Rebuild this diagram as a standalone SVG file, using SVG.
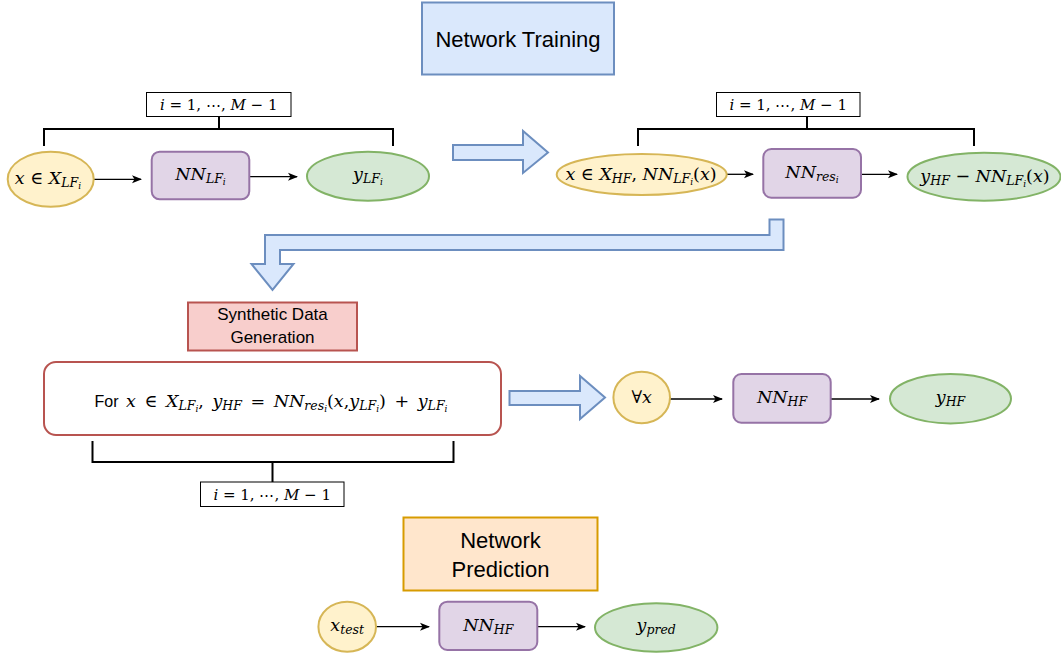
<svg xmlns="http://www.w3.org/2000/svg" width="1061" height="656" viewBox="0 0 1061 656">
  <style>
    .title { font-family: "Liberation Sans", Arial, sans-serif; fill: #000; text-anchor: middle; }
    .math { font-family: "DejaVu Serif", "Liberation Serif", serif; font-size: 17.5px; fill: #000; text-anchor: middle; }
    .math.loop { font-size: 15px; }
    .math.rule { word-spacing: 3px; }
    .mi { font-style: italic; }
    .s1 { font-style: italic; font-size: 12.5px; }
    .s2 { font-style: italic; font-size: 9px; }
    .yel { fill: #fff2cc; stroke: #d6b656; stroke-width: 2; }
    .pur { fill: #e1d5e7; stroke: #9673a6; stroke-width: 2; }
    .grn { fill: #d5e8d4; stroke: #82b366; stroke-width: 2; }
    .blk { fill: #dae8fc; stroke: #6c8ebf; stroke-width: 2; }
    .lbl { fill: #fff; stroke: #000; stroke-width: 1; }
    .brk { fill: none; stroke: #000; stroke-width: 2; }
    .edge { fill: none; stroke: #000; stroke-width: 1.3; marker-end: url(#ah); }
  </style>
  <defs>
    <marker id="ah" viewBox="0 0 10 10" refX="9" refY="5" markerWidth="10" markerHeight="10" markerUnits="userSpaceOnUse" orient="auto">
      <path d="M0,1 L10,5 L0,9 L2.5,5 Z" fill="#000"/>
    </marker>
  </defs>
  <rect width="1061" height="656" fill="#fff"/>

  <!-- section titles -->
  <g id="title-training">
    <rect x="422" y="2.5" width="192" height="72" class="blk"/>
    <text x="518" y="46.5" class="title" font-size="22">Network Training</text>
  </g>
  <g id="title-synthetic">
    <rect x="188" y="302.5" width="169" height="48" fill="#f8cecc" stroke="#b85450" stroke-width="2"/>
    <text x="272.5" y="320" class="title" font-size="17">Synthetic Data</text>
    <text x="272.5" y="343" class="title" font-size="17">Generation</text>
  </g>
  <g id="title-prediction">
    <rect x="403.5" y="517.5" width="194" height="73" fill="#ffe6cc" stroke="#d79b00" stroke-width="2"/>
    <text x="500.5" y="547.5" class="title" font-size="22">Network</text>
    <text x="500.5" y="576.5" class="title" font-size="22">Prediction</text>
  </g>

  <!-- block arrows between stages -->
  <g id="stage-arrows">
    <polygon class="blk" points="453,145 523,145 523,131 548,152.5 523,173 523,160 453,160"/>
    <polygon class="blk" points="783.5,219.5 783.5,250 280,250 280,264 293.5,264 272.5,290 251.5,264 265,264 265,235 769.5,235 769.5,219.5"/>
    <polygon class="blk" points="509.5,391 580,391 580,376 605,397.5 580,419 580,405 509.5,405"/>
  </g>

  <!-- loop brackets -->
  <g id="bracket-lf">
    <path class="brk" d="M44,146 V129 H393 V146 M219,116 V129"/>
    <rect x="146.5" y="92.5" width="144.5" height="24" class="lbl"/>
    <text x="218.7" y="110" class="math loop"><tspan class="mi">i</tspan> = 1, ⋯, <tspan class="mi">M</tspan> − 1</text>
  </g>
  <g id="bracket-res">
    <path class="brk" d="M638,146 V129 H974 V146 M807,116 V129"/>
    <rect x="716.5" y="92.5" width="143.5" height="24" class="lbl"/>
    <text x="788.2" y="110" class="math loop"><tspan class="mi">i</tspan> = 1, ⋯, <tspan class="mi">M</tspan> − 1</text>
  </g>
  <g id="bracket-synth">
    <path class="brk" d="M92.5,441 V462 H453.5 V441 M272.5,462 V482"/>
    <rect x="200.5" y="482" width="143.5" height="24.5" class="lbl"/>
    <text x="272.2" y="499.5" class="math loop"><tspan class="mi">i</tspan> = 1, ⋯, <tspan class="mi">M</tspan> − 1</text>
  </g>

  <!-- connectors -->
  <g id="connectors">
    <line class="edge" x1="94" y1="179.3" x2="141" y2="179.3"/>
    <line class="edge" x1="249.5" y1="176.7" x2="297" y2="176.7"/>
    <line class="edge" x1="727" y1="174.3" x2="753" y2="174.3"/>
    <line class="edge" x1="861" y1="174.3" x2="897" y2="174.3"/>
    <line class="edge" x1="670" y1="399" x2="722" y2="399"/>
    <line class="edge" x1="831" y1="399" x2="879" y2="399"/>
    <line class="edge" x1="376" y1="626.7" x2="429" y2="626.7"/>
    <line class="edge" x1="537.5" y1="626.7" x2="585" y2="626.7"/>
  </g>

  <!-- low-fidelity training -->
  <g id="node-x-lf">
    <ellipse cx="50.7" cy="179.2" rx="43" ry="27.5" class="yel"/>
    <text x="48" y="184" class="math"><tspan class="mi">x</tspan> ∈ <tspan class="mi">X</tspan><tspan class="s1" dy="3">LF</tspan><tspan class="s2" dy="2">i</tspan></text>
  </g>
  <g id="node-nn-lf">
    <rect x="151.7" y="151.7" width="97.6" height="47.6" rx="8" class="pur"/>
    <text x="200.5" y="180" class="math"><tspan class="mi">NN</tspan><tspan class="s1" dy="3">LF</tspan><tspan class="s2" dy="2">i</tspan></text>
  </g>
  <g id="node-y-lf">
    <ellipse cx="368" cy="176.2" rx="61" ry="24.5" class="grn"/>
    <text x="368" y="180" class="math"><tspan class="mi">y</tspan><tspan class="s1" dy="3">LF</tspan><tspan class="s2" dy="2">i</tspan></text>
  </g>

  <!-- residual training -->
  <g id="node-x-hf">
    <ellipse cx="641.7" cy="174.5" rx="85" ry="20.5" class="yel"/>
    <text x="641" y="179.5" class="math"><tspan class="mi">x</tspan> ∈ <tspan class="mi">X</tspan><tspan class="s1" dy="3">HF</tspan><tspan dy="-3">, </tspan><tspan class="mi">NN</tspan><tspan class="s1" dy="3">LF</tspan><tspan class="s2" dy="2">i</tspan><tspan dy="-5">(</tspan><tspan class="mi">x</tspan>)</text>
  </g>
  <g id="node-nn-res">
    <rect x="763.3" y="149" width="97.7" height="48.7" rx="8" class="pur"/>
    <text x="812" y="178" class="math"><tspan class="mi">NN</tspan><tspan class="s1" dy="3">res</tspan><tspan class="s2" dy="2">i</tspan></text>
  </g>
  <g id="node-residual">
    <ellipse cx="984" cy="176.7" rx="76.5" ry="24" class="grn"/>
    <text x="985" y="181.5" class="math"><tspan class="mi">y</tspan><tspan class="s1" dy="3">HF</tspan><tspan dy="-3"> − </tspan><tspan class="mi">NN</tspan><tspan class="s1" dy="3">LF</tspan><tspan class="s2" dy="2">i</tspan><tspan dy="-5">(</tspan><tspan class="mi">x</tspan>)</text>
  </g>

  <!-- synthetic data generation -->
  <g id="node-synth-rule">
    <rect x="44" y="362" width="457" height="73" rx="12" fill="#fff" stroke="#b85450" stroke-width="2"/>
    <text x="271" y="406.5" class="math rule"><tspan font-family="Liberation Sans, Arial, sans-serif" font-size="16">For </tspan><tspan class="mi">x</tspan> ∈ <tspan class="mi">X</tspan><tspan class="s1" dy="3">LF</tspan><tspan class="s2" dy="2">i</tspan><tspan dy="-5">,   </tspan><tspan class="mi">y</tspan><tspan class="s1" dy="3">HF</tspan><tspan dy="-3"> = </tspan><tspan class="mi">NN</tspan><tspan class="s1" dy="3">res</tspan><tspan class="s2" dy="2">i</tspan><tspan dy="-5">(</tspan><tspan class="mi">x</tspan>,<tspan class="mi">y</tspan><tspan class="s1" dy="3">LF</tspan><tspan class="s2" dy="2">i</tspan><tspan dy="-5">) + </tspan><tspan class="mi">y</tspan><tspan class="s1" dy="3">LF</tspan><tspan class="s2" dy="2">i</tspan></text>
  </g>

  <!-- high-fidelity training -->
  <g id="node-all-x">
    <ellipse cx="641.7" cy="397.5" rx="28.3" ry="25.8" class="yel"/>
    <text x="641.7" y="403" class="math">∀<tspan class="mi">x</tspan></text>
  </g>
  <g id="node-nn-hf">
    <rect x="733.3" y="374" width="97.4" height="48.7" rx="8" class="pur"/>
    <text x="782" y="403" class="math"><tspan class="mi">NN</tspan><tspan class="s1" dy="3">HF</tspan></text>
  </g>
  <g id="node-y-hf">
    <ellipse cx="950.5" cy="398.7" rx="60.5" ry="24.7" class="grn"/>
    <text x="950.5" y="403" class="math"><tspan class="mi">y</tspan><tspan class="s1" dy="3">HF</tspan></text>
  </g>

  <!-- prediction -->
  <g id="node-x-test">
    <ellipse cx="347.2" cy="626.7" rx="28.8" ry="25" class="yel"/>
    <text x="347.2" y="631" class="math"><tspan class="mi">x</tspan><tspan class="s1" dy="3">test</tspan></text>
  </g>
  <g id="node-nn-hf-pred">
    <rect x="439.3" y="601.7" width="98" height="48.3" rx="8" class="pur"/>
    <text x="488.3" y="631" class="math"><tspan class="mi">NN</tspan><tspan class="s1" dy="3">HF</tspan></text>
  </g>
  <g id="node-y-pred">
    <ellipse cx="656.2" cy="627.5" rx="61.2" ry="24.2" class="grn"/>
    <text x="656.2" y="631" class="math"><tspan class="mi">y</tspan><tspan class="s1" dy="3">pred</tspan></text>
  </g>
</svg>
